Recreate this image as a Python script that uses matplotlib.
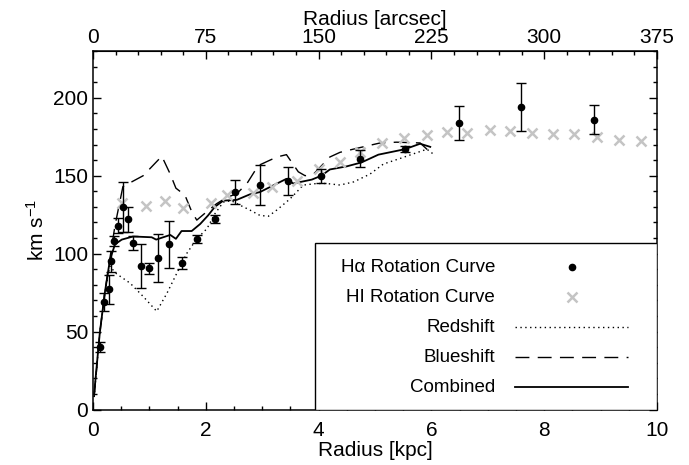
import matplotlib
matplotlib.use('Agg')
import matplotlib.pyplot as plt
from matplotlib.ticker import MultipleLocator, FixedLocator
from matplotlib.patches import Rectangle

plt.rcParams['font.family'] = ['Liberation Sans', 'DejaVu Sans']
plt.rcParams['mathtext.default'] = 'regular'
plt.rcParams['font.size'] = 15

# H-alpha rotation curve (kpc, km/s, error)
ha_r = [0.13, 0.20, 0.28, 0.32, 0.38, 0.45, 0.53, 0.62, 0.71, 0.85, 0.99, 1.15,
        1.35, 1.58, 1.84, 2.16, 2.52, 2.96, 3.46, 4.04, 4.74, 5.54, 6.49, 7.59, 8.88]
ha_v = [40, 69, 77, 95, 108, 118, 130, 122, 107, 92, 90.5, 97, 106, 94, 109.5,
        122, 139.5, 144, 146.5, 150, 161, 167, 184, 194, 186]
ha_err = [3, 6, 9, 7, 3, 5, 16, 8, 4.5, 14, 3.5, 15.5, 15, 4, 2.5, 2.5, 7.5, 13,
          9, 4.5, 5.5, 2, 11, 15.5, 9.5]

# HI rotation curve
hi_r = [0.52, 0.94, 1.28, 1.60, 2.09, 2.38, 2.84, 3.17, 3.61, 4.00, 4.38, 4.73,
        5.12, 5.51, 5.93, 6.27, 6.63, 7.04, 7.39, 7.79, 8.16, 8.53, 8.94, 9.32, 9.72]
hi_v = [132.5, 130.5, 134, 129.5, 132.5, 137.5, 139, 142.5, 146.5, 154, 158.5, 165.5,
        171, 174.5, 176, 178, 177.5, 179.5, 178.5, 177.5, 176.5, 176.5, 175, 173, 172]

# model curves
red_r = [0.02, 0.12, 0.21, 0.30, 0.33, 0.42, 0.66, 0.89, 1.13, 1.31, 1.48, 1.66, 1.84,
         2.02, 2.16, 2.31, 2.45, 2.61, 2.78, 2.96, 3.11, 3.26, 3.49, 3.73, 3.97, 4.14,
         4.38, 4.62, 4.91, 5.15, 5.44, 5.68, 5.92, 6.03]
red_v = [8, 49, 75, 92, 90.5, 87, 81, 72.5, 63, 74.5, 87, 100, 109.5, 116, 125.5, 133,
         134, 131, 128, 124.5, 124, 128, 135, 144, 145, 145, 144, 146, 151, 157.5,
         161, 164, 167, 164]

blue_r = [0.02, 0.12, 0.21, 0.30, 0.39, 0.53, 0.89, 1.22, 1.37, 1.47, 1.63, 1.75, 1.84,
          2.02, 2.19, 2.37, 2.55, 2.73, 2.93, 3.26, 3.43, 3.64, 3.76, 3.91, 4.20, 4.38,
          4.73, 5.09, 5.38, 5.80, 5.95]
blue_v = [8, 49, 75, 97, 118, 143, 150, 162.5, 151, 142, 137.5, 127, 121.5, 127, 132,
          136, 138.5, 145, 156.5, 162, 163.5, 152.5, 150, 151, 162, 165, 168, 171,
          171.5, 171, 166]

comb_r = [0.02, 0.12, 0.21, 0.30, 0.39, 0.51, 0.71, 1.04, 1.12, 1.37, 1.47, 1.57, 1.75,
          1.90, 2.04, 2.16, 2.31, 2.55, 2.78, 2.96, 3.43, 3.55, 3.88, 4.05, 4.20, 4.50,
          4.76, 5.06, 5.53, 5.80, 5.98]
comb_v = [10, 49, 75, 96, 106, 109, 111, 110.5, 109, 112, 109.5, 114.5, 114.5, 119,
          124.5, 130, 134, 134.5, 138, 139.5, 148, 145, 147.5, 150, 154, 156, 158.5,
          163.5, 167, 170.5, 168.5]

top_ticks = [0, 75, 150, 225, 300, 375]

ARCSEC_PER_KPC = 37.5
DOT = (0, (1, 2.5))
DASH = (0, (10, 6))

fig = plt.figure(figsize=(6.89, 4.65), dpi=100)
ax = fig.add_axes([93/689, 55.5/465, 564/689, 358.5/465])

ax.plot(red_r, red_v, color='k', ls=DOT, lw=1.0)
ax.plot(blue_r, blue_v, color='k', ls=DASH, lw=1.0)
ax.plot(comb_r, comb_v, color='k', ls='-', lw=1.3)
ax.plot(hi_r, hi_v, ls='none', marker='x', ms=7.5, mew=1.8, color='#c4c4c4')
ax.errorbar(ha_r, ha_v, yerr=ha_err, fmt='o', ms=4.5, color='k', ecolor='k',
            elinewidth=1.0, capsize=3.5, capthick=1.0)

ax.set_xlim(0, 10)
ax.set_ylim(0, 230)
ax.xaxis.set_major_locator(MultipleLocator(2))
ax.xaxis.set_minor_locator(MultipleLocator(0.5))
ax.yaxis.set_major_locator(MultipleLocator(50))
ax.yaxis.set_minor_locator(MultipleLocator(10))
ax.tick_params(which='both', direction='in', right=True, labelsize=15, width=1.0)
ax.tick_params(which='major', length=6)
ax.tick_params(which='minor', length=3)
ax.tick_params(axis='x', pad=8)
for sp in ax.spines.values():
    sp.set_linewidth(1.1)
ax.set_xlabel('Radius [kpc]', fontsize=15, labelpad=1)
ax.set_ylabel('km s$^{-1}$', fontsize=15, labelpad=4)

# second x axis in arcsec
top = ax.secondary_xaxis('top', functions=(lambda r: r * ARCSEC_PER_KPC,
                                           lambda a: a / ARCSEC_PER_KPC))
top.xaxis.set_major_locator(FixedLocator(top_ticks))
top.xaxis.set_minor_locator(MultipleLocator(15))
top.tick_params(which='both', direction='in', labelsize=15, width=1.0, pad=3)
top.tick_params(which='major', length=6)
top.tick_params(which='minor', length=3)
top.set_xlabel('Radius [arcsec]', fontsize=15, labelpad=2)

# legend box drawn in axes coordinates
ax.add_patch(Rectangle((0.394, 0.0), 0.606, 0.465, transform=ax.transAxes,
                       facecolor='white', edgecolor='k', lw=1.0, zorder=5))
rows = [0.397, 0.313, 0.229, 0.146, 0.062]
labels = ['H\u03b1 Rotation Curve', 'HI Rotation Curve', 'Redshift', 'Blueshift', 'Combined']
for y, lab in zip(rows, labels):
    ax.text(0.713, y, lab, transform=ax.transAxes, ha='right', va='center',
            fontsize=13.5, zorder=6)
ax.plot([0.849], [rows[0]], 'o', ms=4.5, color='k', transform=ax.transAxes, zorder=6)
ax.plot([0.849], [rows[1]], 'x', ms=7.5, mew=1.8, color='#c4c4c4', transform=ax.transAxes, zorder=6)
ax.plot([0.748, 0.949], [rows[2]] * 2, color='k', ls=DOT, lw=1.0,
        transform=ax.transAxes, zorder=6)
ax.plot([0.748, 0.949], [rows[3]] * 2, color='k', ls=DASH, lw=1.0,
        transform=ax.transAxes, zorder=6)
ax.plot([0.748, 0.949], [rows[4]] * 2, color='k', ls='-', lw=1.3,
        transform=ax.transAxes, zorder=6)

fig.savefig('out.png', dpi=100)
